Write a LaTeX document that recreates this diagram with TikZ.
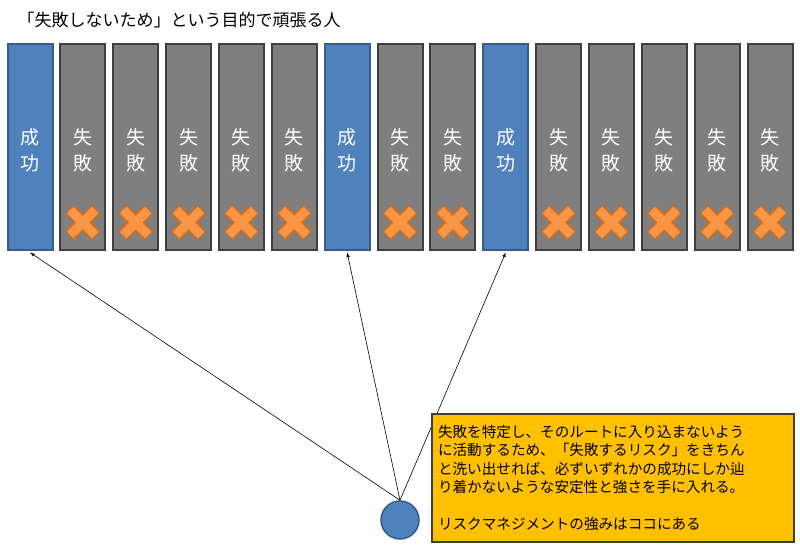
\documentclass[tikz,border=0pt]{standalone}
\usepackage{fontspec}
\newfontfamily\cjk{Noto Sans CJK JP}
\definecolor{okblue}{HTML}{4F81BD}
\definecolor{okedge}{HTML}{385D8A}
\definecolor{nggray}{HTML}{7F7F7F}
\definecolor{ngedge}{HTML}{3F3F3F}
\definecolor{crossfill}{HTML}{F79646}
\definecolor{crossedge}{HTML}{E36C0A}
\definecolor{notefill}{HTML}{FFC000}
\tikzset{
  okbar/.style={draw=okedge, fill=okblue, line width=2pt, minimum width=45pt, minimum height=205pt, inner sep=0pt},
  ngbar/.style={draw=ngedge, fill=nggray, line width=2pt, minimum width=45pt, minimum height=205pt, inner sep=0pt},
  bartext/.style={text=white, font=\cjk\fontsize{19}{26}\selectfont, align=center},
  notebox/.style={draw=ngedge, fill=notefill, line width=2pt, minimum width=362pt, minimum height=128pt, inner sep=6pt, text width=350pt, align=left, font=\cjk\fontsize{14.6}{18.5}\selectfont},
}
\begin{document}
\begin{tikzpicture}[x=1pt,y=-1pt]
\useasboundingbox (0,0) rectangle (800,551);
% 見出し
\node[anchor=west, font=\cjk\fontsize{17}{20}\selectfont] (title) at (14,20) {「失敗しないため」という目的で頑張る人};
% 棒
\foreach \i in {0,...,14} {
  \pgfmathsetmacro{\bx}{30+52.86*\i}
  \ifnum\i=0 \def\kind{ok}\else\ifnum\i=6 \def\kind{ok}\else\ifnum\i=9 \def\kind{ok}\else\def\kind{ng}\fi\fi\fi
  \node[\kind bar] (bar\i) at (\bx,147) {};
}
\foreach \i in {0,6,9} {
  \node[bartext] at ([yshift=-3pt]bar\i.center) {成\\功};
}
\foreach \i in {1,2,3,4,5,7,8,10,11,12,13,14} {
  \node[bartext] at ([yshift=-3pt]bar\i.center) {失\\敗};
  \coordinate (x\i) at ([yshift=28pt]bar\i.south);
  \draw[crossedge, line width=12pt] ([shift={(-13,-13)}]x\i) -- ([shift={(13,13)}]x\i) ([shift={(-13,13)}]x\i) -- ([shift={(13,-13)}]x\i);
  \draw[crossfill, line width=9pt] ([shift={(-12.5,-12.5)}]x\i) -- ([shift={(12.5,12.5)}]x\i) ([shift={(-12.5,12.5)}]x\i) -- ([shift={(12.5,-12.5)}]x\i);
}
% 人
\node[circle, draw=okedge, fill=okblue, line width=1.5pt, minimum size=38pt, inner sep=0pt] (me) at (400,520) {};
\foreach \i in {0,6,9} {
  \draw[-latex, line width=0.6pt] (me.north) -- ([yshift=-2pt]bar\i.south);
}
% 説明
\node[notebox, anchor=north west] (note) at (431,413) {失敗を特定し、そのルートに入り込まないよう\\に活動するため、「失敗するリスク」をきちん\\と洗い出せれば、必ずいずれかの成功にしか辿\\り着かないような安定性と強さを手に入れる。\\[18.5pt]リスクマネジメントの強みはココにある};
\end{tikzpicture}
\end{document}
